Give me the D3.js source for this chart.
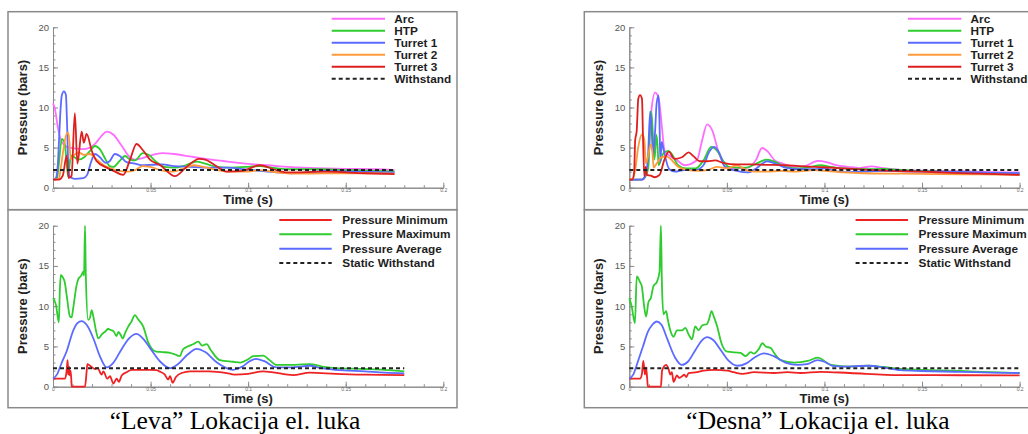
<!DOCTYPE html>
<html><head><meta charset="utf-8">
<script src="https://cdn.jsdelivr.net/npm/d3@7/dist/d3.min.js"></script>
<style>body{margin:0;background:#fff}svg{display:block}</style>
</head><body><svg id="c" width="1028" height="434"></svg>
<script>
// ---------- tick labels / names ----------
const xTicks = [0, 0.05, 0.1, 0.15, 0.2];
const xTickLabels = ["0", "0.05", "0.1", "0.15", "0.2"];
const yTicks = [0, 5, 10, 15, 20];
const topNames = ["Arc", "HTP", "Turret 1", "Turret 2", "Turret 3", "Withstand"];
const bottomNames = ["Pressure Minimum", "Pressure Maximum", "Pressure Average", "Static Withstand"];
const captions = ["\u201CLeva\u201D Lokacija el. luka", "\u201CDesna\u201D Lokacija el. luka"];
const withstandTop = 2.2;
const withstandBottom = 2.3;
const endLeftTop = 0.175, endLeftBottom = 0.18, endRight = 0.2;

// ---------- "Leva" top: [time s, pressure bars] ----------
const levaArc = [[0,10.5],[0.001,9.8],[0.0025,7.5],[0.004,6.0],[0.007,5.1],[0.011,4.9],[0.015,4.8],[0.019,5.0],[0.022,5.6],[0.025,6.5],[0.0275,7.0],[0.031,6.6],[0.035,5.3],[0.039,3.9],[0.042,3.5],[0.046,3.7],[0.051,4.1],[0.056,4.3],[0.062,4.2],[0.07,3.9],[0.078,3.6],[0.088,3.3],[0.095,3.1],[0.103,2.9],[0.11,2.8],[0.12,2.6],[0.135,2.45],[0.15,2.35],[0.165,2.3],[0.175,2.2]];
const levaHTP = [[0,1],[0.002,1.1],[0.003,3],[0.0045,6.1],[0.006,5.5],[0.0072,2.5],[0.0078,1.4],[0.0088,3.5],[0.0095,4.0],[0.011,3.8],[0.013,3.5],[0.016,3.8],[0.019,4.6],[0.0215,5.2],[0.024,4.8],[0.027,3.5],[0.029,2.7],[0.031,2.6],[0.034,3.3],[0.037,3.95],[0.0395,3.5],[0.042,3.4],[0.046,4.3],[0.049,4.1],[0.053,3.2],[0.057,2.6],[0.062,2.5],[0.068,2.8],[0.0735,3.25],[0.078,3.0],[0.084,2.6],[0.09,2.5],[0.1,2.6],[0.106,2.7],[0.112,2.5],[0.12,2.3],[0.135,2.3],[0.15,2.2],[0.165,2.1],[0.175,2.0]];
const levaT1 = [[0,1],[0.0015,1.2],[0.0025,3],[0.0032,6.5],[0.0038,9.5],[0.0045,11.5],[0.0056,12.0],[0.0066,11.6],[0.0072,8],[0.0078,3],[0.0085,1.4],[0.011,1.1],[0.0155,1.2],[0.0175,1.6],[0.0195,3.2],[0.0215,4.2],[0.024,3.8],[0.027,3.1],[0.029,3.3],[0.0317,4.2],[0.0345,3.9],[0.0377,3.2],[0.042,3.0],[0.046,2.8],[0.05,2.85],[0.056,2.9],[0.062,2.7],[0.07,2.6],[0.08,2.5],[0.09,2.5],[0.098,2.3],[0.106,2.1],[0.115,1.9],[0.122,1.8],[0.13,1.9],[0.14,2.1],[0.155,2.0],[0.175,1.9]];
const levaT2 = [[0,1],[0.003,1.1],[0.004,2.5],[0.0055,5],[0.0068,6.6],[0.0078,6.9],[0.0085,5.5],[0.009,3.6],[0.0105,4.0],[0.013,4.4],[0.016,4.1],[0.019,4.2],[0.022,3.6],[0.025,3.0],[0.0275,2.6],[0.031,2.3],[0.034,2.1],[0.038,2.0],[0.042,2.2],[0.046,2.7],[0.0497,2.6],[0.055,2.2],[0.0615,2.0],[0.067,2.4],[0.072,2.8],[0.077,2.6],[0.084,2.2],[0.09,2.0],[0.1,2.0],[0.106,2.2],[0.112,2.0],[0.12,1.8],[0.13,1.75],[0.145,1.8],[0.16,1.8],[0.175,1.75]];
const levaT3 = [[0,1],[0.003,1],[0.005,1.5],[0.007,4],[0.008,1.2],[0.0095,1.5],[0.0112,9.3],[0.0125,3],[0.0147,7],[0.0158,5.6],[0.0172,6.7],[0.02,4.5],[0.0224,3.3],[0.0275,2.5],[0.031,2.1],[0.036,1.6],[0.0395,3.5],[0.0428,5.45],[0.046,4.7],[0.0497,3.5],[0.055,2.8],[0.0625,1.45],[0.068,2.5],[0.075,3.6],[0.078,3.5],[0.083,2.8],[0.089,2.0],[0.097,2.1],[0.106,2.8],[0.113,2.3],[0.12,1.9],[0.14,2.0],[0.16,1.8],[0.175,1.7]];

// ---------- "Desna" top ----------
const desnaArc = [[0,1],[0.007,1],[0.0095,2.5],[0.0112,9.3],[0.0132,11.85],[0.015,11.2],[0.0167,7.6],[0.018,4.7],[0.02,4.1],[0.0235,3.6],[0.0285,2.8],[0.0347,3.45],[0.0373,5.9],[0.0399,7.9],[0.0424,7.2],[0.0458,4.4],[0.0493,2.6],[0.055,2.4],[0.061,2.5],[0.065,3.5],[0.068,4.95],[0.071,4.5],[0.0745,3.4],[0.0786,3.0],[0.085,2.6],[0.09,2.7],[0.0965,3.35],[0.101,3.2],[0.106,2.8],[0.112,2.6],[0.118,2.45],[0.124,2.65],[0.13,2.45],[0.14,2.2],[0.155,2.1],[0.17,2.05],[0.185,1.95],[0.2,1.9]];
const desnaHTP = [[0,1],[0.006,1],[0.008,1.3],[0.0097,2.5],[0.0105,6.5],[0.0113,9.5],[0.012,7],[0.0127,3.5],[0.0133,4.5],[0.0138,6.6],[0.0145,5.2],[0.015,2.8],[0.0158,3.2],[0.0175,4.3],[0.02,4.6],[0.0218,4.2],[0.025,2.8],[0.029,2.4],[0.034,2.4],[0.038,3.4],[0.042,5.1],[0.045,4.6],[0.048,3.4],[0.051,2.6],[0.055,2.5],[0.06,2.5],[0.065,3.0],[0.0705,3.5],[0.075,3.2],[0.08,2.6],[0.087,2.4],[0.093,2.6],[0.098,2.8],[0.103,2.6],[0.11,2.4],[0.12,2.3],[0.13,2.35],[0.14,2.2],[0.16,2.0],[0.18,1.85],[0.2,1.75]];
const desnaT1 = [[0,1],[0.0065,1],[0.008,1.4],[0.0095,3.5],[0.0107,9.5],[0.0115,7],[0.0122,4],[0.0132,7],[0.014,10.5],[0.015,11.5],[0.0155,8],[0.0159,3.2],[0.0166,5.7],[0.0175,4.8],[0.0205,2.3],[0.0235,2.0],[0.028,2.2],[0.034,2.2],[0.038,2.8],[0.041,4.5],[0.0435,5.1],[0.046,4.4],[0.049,2.6],[0.055,2.1],[0.061,1.9],[0.065,2.4],[0.0707,3.3],[0.075,3.0],[0.08,2.5],[0.087,2.3],[0.095,2.3],[0.1,2.4],[0.105,2.1],[0.11,1.95],[0.12,2.0],[0.13,2.1],[0.14,2.05],[0.16,2.0],[0.18,1.9],[0.2,1.8]];
const desnaT2 = [[0,1],[0.002,1.2],[0.003,2.2],[0.0046,5.1],[0.0064,6.6],[0.0077,6.0],[0.0085,3.0],[0.0095,3.8],[0.011,5.4],[0.0118,4.5],[0.0125,2.5],[0.014,3.0],[0.0165,3.8],[0.019,3.9],[0.021,3.6],[0.025,2.6],[0.03,2.2],[0.035,2.1],[0.04,2.2],[0.045,2.6],[0.05,2.4],[0.055,2.8],[0.06,2.2],[0.065,2.0],[0.07,2.0],[0.078,2.1],[0.085,2.0],[0.095,2.2],[0.1,2.1],[0.11,1.9],[0.12,1.8],[0.14,1.75],[0.16,1.7],[0.18,1.65],[0.2,1.6]];
const desnaT3 = [[0,1],[0.0015,1],[0.0025,2],[0.003,5.9],[0.0038,7.1],[0.0046,11.1],[0.0055,11.55],[0.0065,11.1],[0.007,6.5],[0.0077,1.4],[0.0084,2.6],[0.009,1.6],[0.011,1.5],[0.013,1.3],[0.0155,1.6],[0.018,3.5],[0.0203,4.5],[0.023,3.6],[0.027,3.8],[0.0304,4.4],[0.033,3.9],[0.036,3.3],[0.04,3.3],[0.044,3.4],[0.048,3.1],[0.055,2.9],[0.062,2.9],[0.07,2.85],[0.08,2.8],[0.087,2.7],[0.095,2.6],[0.1,2.55],[0.11,2.4],[0.12,2.25],[0.135,2.1],[0.15,2.0],[0.165,1.85],[0.18,1.75],[0.2,1.6]];

// ---------- "Leva" bottom ----------
const levaMin = [[0,1],[0.006,1],[0.0068,1.6],[0.0072,2.6],[0.0075,3.3],[0.0078,1.5],[0.0082,2.5],[0.0086,1.4],[0.009,2.0],[0.0094,0.8],[0.0096,0],[0.0164,0],[0.0172,1.8],[0.0176,2.8],[0.019,2.6],[0.0215,2.2],[0.0229,2.3],[0.0249,1.5],[0.0258,1.9],[0.0278,1.0],[0.0292,1.3],[0.0309,0.4],[0.0326,1.0],[0.0338,0.6],[0.0352,1.4],[0.0377,1.8],[0.0403,2.1],[0.045,2.1],[0.05,2.1],[0.053,2.05],[0.0545,1.9],[0.0573,1.5],[0.059,0.9],[0.06,1.3],[0.0613,0.5],[0.063,1.2],[0.0659,1.7],[0.0704,1.9],[0.08,1.9],[0.084,1.85],[0.089,1.7],[0.093,1.5],[0.1,1.6],[0.1077,1.9],[0.112,1.8],[0.123,1.45],[0.1316,1.75],[0.145,1.6],[0.16,1.5],[0.18,1.45]];
const levaMax = [[0,11],[0.0015,10.2],[0.003,8.0],[0.0035,12],[0.004,13.9],[0.005,13.6],[0.006,13.0],[0.0072,11],[0.0087,8.7],[0.0095,8.6],[0.0105,10],[0.012,12.5],[0.013,13.4],[0.0145,13.8],[0.0155,14.3],[0.0159,13.8],[0.0164,20],[0.0168,14],[0.018,8.3],[0.019,8.6],[0.0198,9.5],[0.021,8.3],[0.022,7],[0.0232,6.0],[0.025,6.5],[0.027,6.9],[0.0283,7.2],[0.029,7.1],[0.031,6.9],[0.0325,6.3],[0.0335,6.8],[0.0345,6.5],[0.0357,6.0],[0.037,6.7],[0.0386,7.5],[0.04,8.0],[0.042,8.9],[0.0435,8.4],[0.0462,7.5],[0.0488,5.5],[0.051,4.6],[0.053,4.35],[0.056,4.3],[0.06,4.2],[0.0625,4.0],[0.065,3.8],[0.0665,4.6],[0.069,5.0],[0.072,5.3],[0.0744,5.6],[0.0765,5.1],[0.0787,5.3],[0.081,4.5],[0.0855,3.3],[0.0923,3.1],[0.096,3.0],[0.1,3.4],[0.1026,3.8],[0.1077,3.85],[0.111,3.3],[0.1145,2.7],[0.12,2.7],[0.1316,2.8],[0.138,2.5],[0.145,2.3],[0.16,2.2],[0.17,2.1],[0.18,1.9]];
const levaAvg = [[0,1],[0.002,1.5],[0.0045,3.0],[0.007,4.4],[0.0104,7.0],[0.0125,7.9],[0.0147,8.15],[0.0175,7.6],[0.021,5.8],[0.024,3.8],[0.0275,2.4],[0.031,3.0],[0.035,4.6],[0.039,6.0],[0.0428,6.55],[0.046,6.0],[0.05,4.7],[0.055,3.1],[0.06,2.3],[0.064,2.8],[0.069,4.0],[0.0736,4.7],[0.078,4.3],[0.084,3.0],[0.0923,2.1],[0.097,2.5],[0.101,3.2],[0.104,3.45],[0.108,3.2],[0.1145,2.4],[0.122,2.4],[0.1316,2.6],[0.1375,2.3],[0.145,2.1],[0.16,1.9],[0.17,1.75],[0.18,1.65]];

// ---------- "Desna" bottom ----------
const desnaMin = [[0,1],[0.0055,1],[0.0064,1.5],[0.0072,3.2],[0.008,1.5],[0.0086,2.4],[0.0091,1.2],[0.0095,0],[0.0162,0],[0.0168,2.0],[0.0189,2.7],[0.0201,2.2],[0.021,1.5],[0.0218,1.8],[0.0227,0.6],[0.0244,1.4],[0.0256,1.1],[0.027,1.3],[0.0282,1.5],[0.0292,1.2],[0.0304,1.7],[0.0347,1.8],[0.0381,2.0],[0.0433,2.1],[0.0502,2.0],[0.0536,1.8],[0.0579,1.6],[0.0639,1.8],[0.0742,1.7],[0.081,1.8],[0.0879,1.7],[0.098,1.85],[0.113,1.7],[0.139,1.45],[0.17,1.42],[0.2,1.4]];
const desnaMax = [[0,11],[0.0012,10],[0.0029,7.9],[0.0038,13.7],[0.0055,13],[0.0064,12.5],[0.0076,10],[0.0086,8.7],[0.0098,10.5],[0.011,11],[0.0124,12.5],[0.0141,13],[0.0155,14.3],[0.0162,20],[0.0167,13],[0.0175,9],[0.0189,9.4],[0.0196,8.5],[0.021,7],[0.0227,6.2],[0.0244,7],[0.027,7],[0.0287,7.3],[0.0304,6.5],[0.0321,5.9],[0.0338,7.5],[0.0355,7],[0.0373,7.6],[0.0399,7.8],[0.041,8.5],[0.0421,9.4],[0.0433,8.7],[0.045,7.5],[0.0471,5.5],[0.0502,4.35],[0.057,4.2],[0.0596,3.8],[0.0622,4.3],[0.0639,4.1],[0.0664,4.7],[0.0682,5.4],[0.0699,5.0],[0.0725,4.8],[0.0742,4.2],[0.0776,3.3],[0.0845,3.0],[0.0914,3.2],[0.0965,3.6],[0.1035,2.7],[0.113,2.5],[0.1225,2.6],[0.13,2.45],[0.139,2.2],[0.15,2.1],[0.17,1.95],[0.185,1.8],[0.2,1.7]];
const desnaAvg = [[0,1],[0.002,1.5],[0.0045,3.2],[0.007,5.0],[0.0095,6.8],[0.0118,7.7],[0.0141,8.1],[0.0165,7.7],[0.0195,5.9],[0.0235,3.6],[0.027,2.7],[0.03,3.1],[0.034,4.6],[0.037,5.7],[0.04,6.15],[0.043,5.8],[0.047,4.5],[0.051,3.2],[0.0553,2.6],[0.06,2.9],[0.064,3.6],[0.069,4.15],[0.074,3.8],[0.08,3.0],[0.0862,2.7],[0.091,2.8],[0.0965,3.3],[0.1,3.1],[0.104,2.6],[0.11,2.5],[0.1225,2.6],[0.13,2.4],[0.139,2.05],[0.15,1.95],[0.17,1.85],[0.185,1.75],[0.2,1.7]];

// ---------- styling ----------
const topColors = ["#ff6cff", "#2ecc2e", "#5b6bff", "#ff9a3c", "#dd1f1f"];
const bottomColors = ["#ee2222", "#2ecc2e", "#5b6bff"];
const axisGrey = "#8a8a8a";
const font = "'Liberation Sans', Arial, sans-serif";

const svg = d3.select("#c");

function drawPanel(off, yTopPx, y0Px, series, colors, withstand, tEnd, legend) {
  const x = d3.scaleLinear().domain([0, 0.2]).range([53 + off, 443.3 + off]);
  const y = d3.scaleLinear().domain([0, 20]).range([y0Px, yTopPx]);
  const g = svg.append("g");

  const xMinor = g.append("g").attr("transform", `translate(0,${y0Px})`)
    .call(d3.axisBottom(x).tickValues(d3.range(0, 0.2001, 0.01)).tickSize(-2.5).tickSizeOuter(0).tickFormat(""));
  const xAx = g.append("g").attr("transform", `translate(0,${y0Px})`)
    .call(d3.axisBottom(x).tickValues(xTicks).tickSize(-5).tickSizeOuter(0).tickPadding(1)
      .tickFormat((d, i) => xTickLabels[i]));
  const yMinor = g.append("g").attr("transform", `translate(${53 + off},0)`)
    .call(d3.axisLeft(y).tickValues(d3.range(0, 20.01, 1)).tickSize(-2.5).tickSizeOuter(0).tickFormat(""));
  const yAx = g.append("g").attr("transform", `translate(${53 + off},0)`)
    .call(d3.axisLeft(y).tickValues(yTicks).tickSize(-5).tickSizeOuter(0).tickPadding(4));
  [xMinor, xAx, yMinor, yAx].forEach(a => {
    a.selectAll("path,line").attr("stroke", axisGrey).attr("stroke-width", 1);
  });
  xAx.selectAll("text").attr("font-size", 5).attr("font-family", font).attr("fill", "#666");
  yAx.selectAll("text").attr("font-size", 9.5).attr("font-family", font).attr("fill", "#555");

  g.append("text").attr("x", 248 + off).attr("y", y0Px + 16.5)
    .attr("text-anchor", "middle").attr("font-family", font).attr("font-weight", "bold")
    .attr("font-size", 13).attr("fill", "#222").text("Time (s)");
  g.append("text").attr("transform", `translate(${27 + off},${(yTopPx + y0Px) / 2}) rotate(-90)`)
    .attr("text-anchor", "middle").attr("font-family", font).attr("font-weight", "bold")
    .attr("font-size", 13).attr("fill", "#222").text("Pressure (bars)");

  const line = d3.line().x(d => x(d[0])).y(d => y(d[1])).curve(d3.curveMonotoneX);
  series.forEach((s, i) => {
    g.append("path").attr("d", line(s)).attr("fill", "none")
      .attr("stroke", colors[i]).attr("stroke-width", 1.8).attr("stroke-linejoin", "round");
  });
  g.append("path").attr("d", d3.line().x(d => x(d[0])).y(d => y(d[1]))([[0, withstand], [tEnd, withstand]]))
    .attr("stroke", "#222").attr("stroke-width", 2).attr("stroke-dasharray", "4,3").attr("fill", "none");

  legend.names.forEach((n, i) => {
    const ly = legend.y0 + i * legend.dy;
    const l = g.append("line").attr("x1", legend.x1 + off).attr("x2", legend.x2 + off)
      .attr("y1", ly).attr("y2", ly).attr("stroke-width", 2);
    if (i < colors.length) l.attr("stroke", colors[i]);
    else l.attr("stroke", "#222").attr("stroke-dasharray", "4,3");
    g.append("text").attr("x", legend.tx + off).attr("y", ly + 4)
      .attr("font-family", font).attr("font-weight", "bold").attr("font-size", 11.8)
      .attr("fill", "#1e1e1e").text(n);
  });
}

[0, 576.3].forEach(off => {
  svg.append("rect").attr("x", 8 + off).attr("y", 11.7).attr("width", 449).attr("height", 198)
    .attr("fill", "none").attr("stroke", axisGrey).attr("stroke-width", 1.5);
  svg.append("rect").attr("x", 8 + off).attr("y", 209.7).attr("width", 449).attr("height", 198)
    .attr("fill", "none").attr("stroke", axisGrey).attr("stroke-width", 1.5);
});

const topLegend = {names: topNames, x1: 331.7, x2: 385, tx: 394.3, y0: 18.7, dy: 12};
const botLegend = {names: bottomNames, x1: 279.3, x2: 331.7, tx: 342.3, y0: 220, dy: 14.33};

drawPanel(0, 27.3, 187.7, [levaArc, levaHTP, levaT1, levaT2, levaT3], topColors, withstandTop, endLeftTop, topLegend);
drawPanel(0, 225.7, 386.7, [levaMin, levaMax, levaAvg], bottomColors, withstandBottom, endLeftBottom, botLegend);
drawPanel(576.3, 27.3, 187.7, [desnaArc, desnaHTP, desnaT1, desnaT2, desnaT3], topColors, withstandTop, endRight, topLegend);
drawPanel(576.3, 225.7, 386.7, [desnaMin, desnaMax, desnaAvg], bottomColors, withstandBottom, endRight, botLegend);

[235, 818].forEach((cx, i) => {
  svg.append("text").attr("x", cx).attr("y", 428.5).attr("text-anchor", "middle")
    .attr("font-family", "'Liberation Serif', 'Times New Roman', serif").attr("font-size", 25.5)
    .attr("fill", "#000").text(captions[i]);
});
</script></body></html>
